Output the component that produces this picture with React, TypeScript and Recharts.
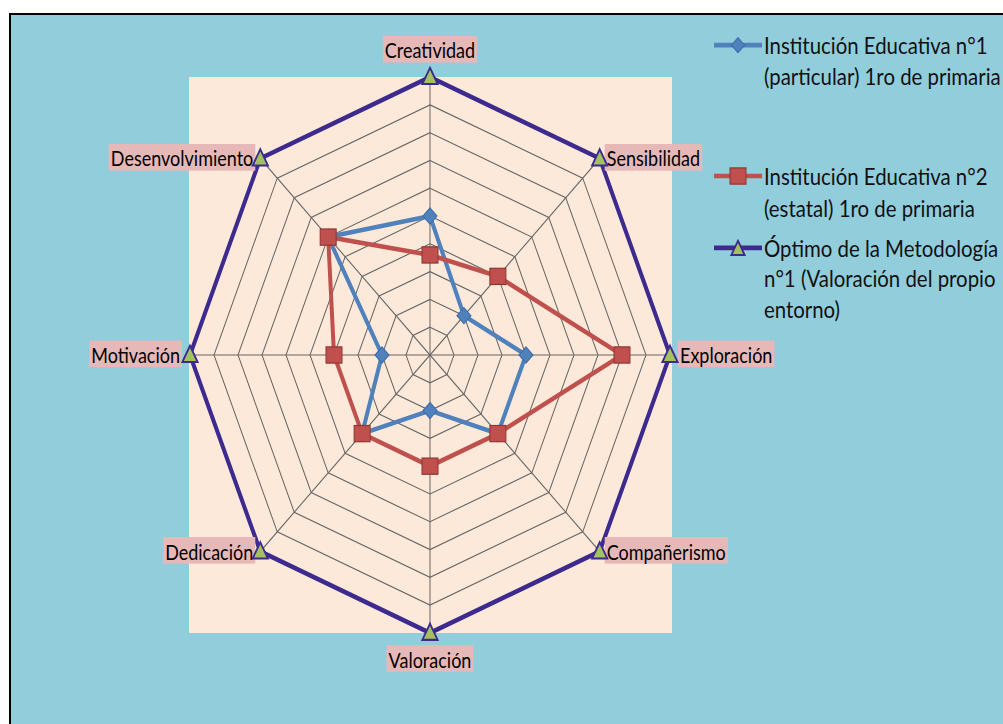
import React from 'react';
import { RadarChart, Radar, PolarGrid, PolarAngleAxis, PolarRadiusAxis } from 'recharts';

const categories = ['Creatividad', 'Sensibilidad', 'Exploración', 'Compañerismo', 'Valoración', 'Dedicación', 'Motivación', 'Desenvolvimiento'];
const institucion1 = [5, 2, 4, 4, 2, 4, 2, 6];
const institucion2 = [3.6, 4, 8, 4, 4, 4, 4, 6];
const optimo = [10, 10, 10, 10, 10, 10, 10, 10];
const radiusDomain = [0, 10];
const radiusTickCount = 11;

const seriesNames = [
  'Institución Educativa n°1 (particular) 1ro de primaria',
  'Institución Educativa n°2 (estatal) 1ro de primaria',
  'Óptimo de la Metodología n°1 (Valoración del propio entorno)',
];
const legendLines = [
  ['Institución Educativa n°1', '(particular) 1ro de primaria'],
  ['Institución Educativa n°2', '(estatal) 1ro de primaria'],
  ['Óptimo de la Metodología', 'n°1 (Valoración del propio', 'entorno)'],
];

const data = categories.map((c, i) => ({
  categoria: c,
  s1: institucion1[i],
  s2: institucion2[i],
  s3: optimo[i],
}));

const SY = 1.158;
const W = 1003;
const H = 724;
const CX = 430;
const CY = 355 / SY;
const R = 240;

const FONT = 'Lato, "Open Sans", sans-serif';
const LABEL_SIZE = 18;
const LEGEND_SIZE = 20.4;

let canvasCtx: any = null;
const measure = (text: string, font: string) => {
  if (!canvasCtx) canvasCtx = document.createElement('canvas').getContext('2d');
  canvasCtx.font = font;
  return canvasCtx.measureText(text).width;
};

const BLUE = '#4F81BD';
const RED = '#C0504D';
const PURPLE = '#3C2A8E';
const GREEN = '#A4C160';

const diamondPath = (x: number, y: number, s: number) => `M${x},${y - s} L${x + s},${y} L${x},${y + s} L${x - s},${y} Z`;
const trianglePath = (x: number, y: number, s: number) => `M${x},${y - s} L${x + s * 0.95},${y + s * 0.75} L${x - s * 0.95},${y + s * 0.75} Z`;

const DiamondDot = (p: any) => (
  <path key={`d1-${p.index}`} d={diamondPath(p.cx, p.cy, 7)} fill={BLUE} stroke="#3D6DA8" strokeWidth={1} />
);
const SquareDot = (p: any) => (
  <rect key={`d2-${p.index}`} x={p.cx - 8} y={p.cy - 7} width={16} height={14} fill={RED} stroke="#8E3431" strokeWidth={1} />
);
const TriangleDot = (p: any) => (
  <path key={`d3-${p.index}`} d={trianglePath(p.cx, p.cy, 8)} fill={GREEN} stroke={PURPLE} strokeWidth={1.8} />
);

const TICK = 8;
const AngleTick = (props: any) => {
  const { x, y, payload } = props;
  const a = (payload.coordinate * Math.PI) / 180;
  const vx = x - TICK * Math.cos(a);
  const vy = y + TICK * Math.sin(a);
  const c = Math.cos(a);
  const s = Math.sin(a);
  let anchor: 'start' | 'middle' | 'end' = 'middle';
  let tx = vx;
  let ty = vy;
  if (Math.abs(c) < 0.01) {
    ty = s > 0 ? vy - 23 : vy + 23;
  } else if (c > 0) {
    anchor = 'start';
    tx = vx + (Math.abs(s) < 0.01 ? 10 : 7);
  } else {
    anchor = 'end';
    tx = vx - (Math.abs(s) < 0.01 ? 10 : 7);
  }
  const label = String(payload.value);
  const w = measure(label, `${LABEL_SIZE}px ${FONT}`);
  const pad = 2;
  const left = anchor === 'start' ? tx - pad : anchor === 'end' ? tx - w - pad : tx - w / 2 - pad;
  const bh = 23;
  return (
    <g>
      <rect x={left} y={ty - bh / 2 - 1} width={w + pad * 2} height={bh} fill="#E6B9B8" />
      <text x={tx} y={ty} textAnchor={anchor} dominantBaseline="central" fontFamily={FONT} fontSize={LABEL_SIZE} fill="#000">
        {label}
      </text>
    </g>
  );
};

const legendIcons = [
  (
    <svg width={50} height={20} key="i1">
      <line x1={0} y1={10} x2={48} y2={10} stroke={BLUE} strokeWidth={4} />
      <path d={diamondPath(24, 10, 6.5)} fill={BLUE} stroke="#3D6DA8" />
    </svg>
  ),
  (
    <svg width={50} height={20} key="i2">
      <line x1={0} y1={10} x2={48} y2={10} stroke={RED} strokeWidth={4} />
      <rect x={16} y={3} width={16} height={14} fill={RED} stroke="#8E3431" />
    </svg>
  ),
  (
    <svg width={50} height={20} key="i3">
      <line x1={0} y1={10} x2={48} y2={10} stroke={PURPLE} strokeWidth={4} />
      <path d={trianglePath(24, 11, 7)} fill={GREEN} stroke={PURPLE} strokeWidth={1.8} />
    </svg>
  ),
];
const legendTops = [25.5, 139, 200.5];
const LINE_H = 26.7;

export default function App() {
  return (
    <div style={{ position: 'absolute', left: 0, top: 0, width: W, height: H, overflow: 'hidden', background: '#fff' }}>
      <div
        style={{
          position: 'absolute',
          left: 9,
          top: 13,
          width: W,
          height: H,
          background: '#92CDDC',
          borderLeft: '2px solid #000',
          borderTop: '2px solid #000',
        }}
      />
      <div style={{ position: 'absolute', left: 189, top: 77, width: 483, height: 556, background: '#FDE9D9' }} />
      <div
        style={{
          position: 'absolute',
          left: 0,
          top: 0,
          width: W,
          height: H / SY,
          transform: `scaleY(${SY})`,
          transformOrigin: '0 0',
        }}
      >
        <RadarChart
          width={W}
          height={H / SY}
          data={data}
          cx={CX}
          cy={CY}
          outerRadius={R}
          margin={{ top: 0, right: 0, bottom: 0, left: 0 }}
        >
          <PolarGrid gridType="polygon" stroke="#666666" strokeWidth={1} />
          <PolarAngleAxis dataKey="categoria" tick={<AngleTick />} tickLine={false} axisLine={false} tickSize={TICK} />
          <PolarRadiusAxis domain={radiusDomain} tickCount={radiusTickCount} tick={false} axisLine={false} />
          <Radar
            name={seriesNames[0]}
            dataKey="s1"
            stroke={BLUE}
            strokeWidth={4}
            fill="none"
            fillOpacity={0}
            dot={DiamondDot}
            isAnimationActive={false}
          />
          <Radar
            name={seriesNames[1]}
            dataKey="s2"
            stroke={RED}
            strokeWidth={4}
            fill="none"
            fillOpacity={0}
            dot={SquareDot}
            isAnimationActive={false}
          />
          <Radar
            name={seriesNames[2]}
            dataKey="s3"
            stroke={PURPLE}
            strokeWidth={4}
            fill="none"
            fillOpacity={0}
            dot={TriangleDot}
            isAnimationActive={false}
          />
        </RadarChart>
        {legendLines.map((lines, i) => (
          <div key={i} style={{ position: 'absolute', left: 714, top: legendTops[i], display: 'flex', alignItems: 'flex-start' }}>
            <div style={{ height: LINE_H, display: 'flex', alignItems: 'center' }}>{legendIcons[i]}</div>
            <div style={{ fontFamily: FONT, fontSize: LEGEND_SIZE, lineHeight: `${LINE_H}px`, color: '#111', whiteSpace: 'nowrap' }}>
              {lines.map((l, j) => (
                <div key={j}>{l}</div>
              ))}
            </div>
          </div>
        ))}
      </div>
    </div>
  );
}
